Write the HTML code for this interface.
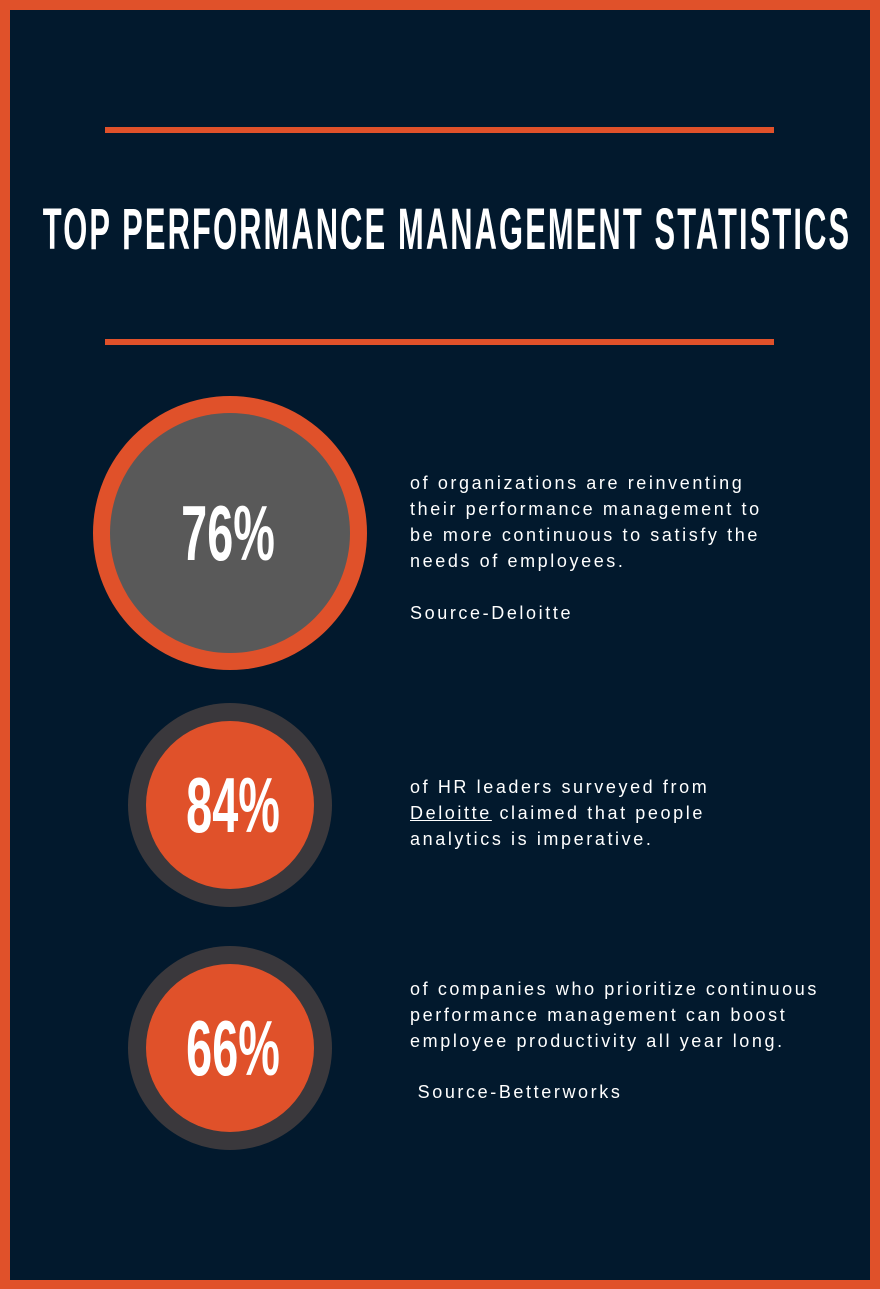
<!DOCTYPE html>
<html><head><meta charset="utf-8"><style>
*{margin:0;padding:0;box-sizing:border-box}
body{width:880px;height:1289px;background:#e0512a;position:relative;overflow:hidden;font-family:"Liberation Sans",sans-serif}
.in{position:absolute;left:10px;top:10px;width:860px;height:1270px;background:#02192d}
.line{position:absolute;left:105px;width:669px;height:6px;background:#e0512a}
.title{position:absolute;left:447px;top:196px;color:#fff;font-weight:bold;font-size:58px;letter-spacing:4px;transform:translateX(-50%) scaleX(0.532);white-space:nowrap}
.c{position:absolute;border-radius:50%}
.pct{position:absolute;color:#fff;font-weight:bold;font-size:78px;text-align:center;width:200px;transform:scaleX(0.6);line-height:1}
.t{position:absolute;left:410px;color:#fff;font-size:18px;letter-spacing:2.6px;line-height:26px;white-space:nowrap}
</style></head><body>
<div class="in"></div>
<div class="line" style="top:127px"></div>
<div class="line" style="top:339px"></div>
<div class="title">TOP PERFORMANCE MANAGEMENT STATISTICS</div>

<div class="c" style="left:93px;top:396px;width:274px;height:274px;background:#e0512a"></div>
<div class="c" style="left:110px;top:413px;width:240px;height:240px;background:#595959"></div>
<div class="pct" style="left:128px;top:494px">76%</div>

<div class="c" style="left:128px;top:703px;width:204px;height:204px;background:#3a383c"></div>
<div class="c" style="left:146px;top:721px;width:168px;height:168px;background:#e0512a"></div>
<div class="pct" style="left:133px;top:766px">84%</div>

<div class="c" style="left:128px;top:946px;width:204px;height:204px;background:#3a383c"></div>
<div class="c" style="left:146px;top:964px;width:168px;height:168px;background:#e0512a"></div>
<div class="pct" style="left:133px;top:1009px">66%</div>

<div class="t" style="top:470px">of organizations are reinventing<br>their performance management to<br>be more continuous to satisfy the<br>needs of employees.</div>
<div class="t" style="top:600px">Source-Deloitte</div>
<div class="t" style="top:774px">of HR leaders surveyed from<br><u>Deloitte</u> claimed that people<br>analytics is imperative.</div>
<div class="t" style="top:976px">of companies who prioritize continuous<br>performance management can boost<br>employee productivity all year long.</div>
<div class="t" style="top:1079px">&nbsp;Source-Betterworks</div>
</body></html>
